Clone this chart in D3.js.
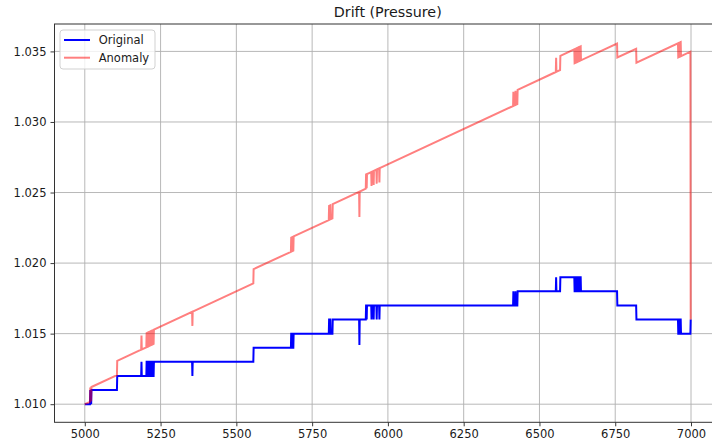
<!DOCTYPE html>
<html>
<head>
<meta charset="utf-8">
<script src="https://cdn.jsdelivr.net/npm/d3@7"></script>
<style>
  body { margin: 0; background: #fff; }
  text { font-family: "DejaVu Sans", sans-serif; fill: #1a1a1a; }
</style>
</head>
<body>
<div id="app"></div>
<script>
// vertices of the two series (shared x)
const sampleX = [5000,5017,5018,5019,5020,5021,5022,5106,5107,5186,5187,5188,5203,5204,5205,5206,5209,5210,5212,5213,5215,5216,5218,5219,5221,5222,5224,5225,5227,5228,5354,5355,5356,5556,5557,5680,5681,5683,5684,5688,5689,5805,5806,5810,5811,5817,5818,5905,5906,5907,5927,5928,5929,5930,5931,5945,5946,5947,5952,5953,5954,5962,5963,5964,5971,5972,5973,6413,6414,6415,6420,6421,6422,6427,6428,6554,6555,6556,6568,6569,6615,6616,6617,6618,6620,6621,6622,6623,6625,6626,6627,6628,6631,6632,6633,6634,6636,6637,6756,6757,6819,6820,6957,6958,6959,6960,6962,6963,6964,6965,6966,6967,6998,6999];

const original = [1.010,1.010,1.011,1.010,1.011,1.010,1.011,1.011,1.012,1.012,1.013,1.012,1.012,1.013,1.013,1.012,1.012,1.013,1.013,1.012,1.012,1.013,1.013,1.012,1.012,1.013,1.013,1.012,1.012,1.013,1.013,1.012,1.013,1.013,1.014,1.014,1.015,1.015,1.014,1.014,1.015,1.015,1.016,1.016,1.015,1.015,1.016,1.016,1.0142,1.016,1.016,1.017,1.017,1.016,1.017,1.017,1.016,1.017,1.017,1.016,1.017,1.017,1.016,1.017,1.017,1.016,1.017,1.017,1.018,1.017,1.017,1.018,1.017,1.017,1.018,1.018,1.019,1.018,1.018,1.019,1.019,1.018,1.018,1.019,1.019,1.018,1.018,1.019,1.019,1.018,1.018,1.019,1.019,1.018,1.018,1.019,1.019,1.018,1.018,1.017,1.017,1.016,1.016,1.015,1.015,1.016,1.016,1.015,1.015,1.016,1.016,1.015,1.015,1.016];

const anomaly = [1.01000,1.01017,1.01118,1.01019,1.01120,1.01021,1.01122,1.01206,1.01307,1.01386,1.01487,1.01388,1.01403,1.01504,1.01505,1.01406,1.01409,1.01510,1.01512,1.01413,1.01415,1.01516,1.01518,1.01419,1.01421,1.01522,1.01524,1.01425,1.01427,1.01528,1.01654,1.01555,1.01656,1.01856,1.01957,1.02080,1.02181,1.02183,1.02084,1.02088,1.02189,1.02305,1.02406,1.02410,1.02311,1.02317,1.02418,1.02505,1.02326,1.02507,1.02527,1.02628,1.02629,1.02530,1.02631,1.02645,1.02546,1.02647,1.02652,1.02553,1.02654,1.02662,1.02563,1.02664,1.02671,1.02572,1.02673,1.03113,1.03214,1.03115,1.03120,1.03221,1.03122,1.03127,1.03228,1.03354,1.03455,1.03356,1.03368,1.03469,1.03515,1.03416,1.03417,1.03518,1.03520,1.03421,1.03422,1.03523,1.03525,1.03426,1.03427,1.03528,1.03531,1.03432,1.03433,1.03534,1.03536,1.03437,1.03556,1.03457,1.03519,1.03420,1.03557,1.03458,1.03459,1.03560,1.03562,1.03463,1.03464,1.03565,1.03566,1.03467,1.03498,1.01600];

const xTicks = [5000, 5250, 5500, 5750, 6000, 6250, 6500, 6750, 7000];
const yTicks = [1.010, 1.015, 1.020, 1.025, 1.030, 1.035];
const seriesNames = ["Original", "Anomaly"];

const width = 712
    , height = 445
    , mLeft = 54.5
    , mRight = 721
    , mTop = 24
    , mBottom = 422.3
    , fs = 11.5;

const svg = d3.select("#app").append("svg")
    .attr("width", width)
    .attr("height", height)
    .style("display", "block");

// matplotlib-ish 5% margins
const xExt = d3.extent(sampleX), xPad = (xExt[1] - xExt[0]) * 0.05;
const allY = original.concat(anomaly);
const yExt = d3.extent(allY), yPad = (yExt[1] - yExt[0]) * 0.05;

const x = d3.scaleLinear().domain([xExt[0] - xPad, xExt[1] + xPad]).range([mLeft, mRight]);
const y = d3.scaleLinear().domain([yExt[0] - yPad, yExt[1] + yPad]).range([mBottom, mTop]);

svg.append("defs").append("clipPath").attr("id", "plot")
  .append("rect")
    .attr("x", mLeft).attr("y", mTop)
    .attr("width", mRight - mLeft).attr("height", mBottom - mTop);

// grid
const grid = svg.append("g").attr("stroke", "#b0b0b0").attr("stroke-width", 0.9);
grid.selectAll(".gx").data(xTicks).enter().append("line")
    .attr("x1", d => x(d)).attr("x2", d => x(d))
    .attr("y1", mTop).attr("y2", mBottom);
grid.selectAll(".gy").data(yTicks).enter().append("line")
    .attr("x1", mLeft).attr("x2", mRight)
    .attr("y1", d => y(d)).attr("y2", d => y(d));

// lines
const lineOf = vals => d3.line()
    .x((d, i) => x(sampleX[i]))
    .y(d => y(d))(vals);

const plot = svg.append("g").attr("clip-path", "url(#plot)").attr("fill", "none");
plot.append("path")
    .attr("d", lineOf(original))
    .attr("stroke", "#0000ff")
    .attr("stroke-width", 2);
plot.append("path")
    .attr("d", lineOf(anomaly))
    .attr("stroke", "#ff0000")
    .attr("stroke-opacity", 0.5)
    .attr("stroke-width", 2);

// axes
const xAxis = svg.append("g")
    .attr("transform", `translate(0,${mBottom})`)
    .call(d3.axisBottom(x).tickValues(xTicks).tickSize(4).tickPadding(4).tickFormat(d3.format("d")));
const yAxis = svg.append("g")
    .attr("transform", `translate(${mLeft},0)`)
    .call(d3.axisLeft(y).tickValues(yTicks).tickSize(4).tickPadding(4).tickFormat(d3.format(".3f")));

[xAxis, yAxis].forEach(g => {
  g.select(".domain").remove();
  g.selectAll(".tick line").attr("stroke", "#222").attr("stroke-width", 0.9);
  g.selectAll(".tick text")
    .style("font-family", "'DejaVu Sans', sans-serif")
    .style("font-size", fs + "px")
    .attr("fill", "#1a1a1a");
});

// spines
svg.append("rect")
    .attr("x", mLeft).attr("y", mTop)
    .attr("width", mRight - mLeft).attr("height", mBottom - mTop)
    .attr("fill", "none")
    .attr("stroke", "#333").attr("stroke-width", 1);

// title
svg.append("text")
    .attr("x", (mLeft + mRight) / 2)
    .attr("y", 17)
    .attr("text-anchor", "middle")
    .style("font-size", "14.3px")
    .text("Drift (Pressure)");

// legend
const legend = svg.append("g").attr("transform", "translate(60,30)");
legend.append("rect")
    .attr("width", 95).attr("height", 39).attr("rx", 3)
    .attr("fill", "#fff").attr("fill-opacity", 0.8)
    .attr("stroke", "#cccccc").attr("stroke-width", 0.9);

const legColors = [{ c: "#0000ff", o: 1 }, { c: "#ff0000", o: 0.5 }];
seriesNames.forEach((name, i) => {
  const yy = 10 + i * 17.7;
  legend.append("line")
      .attr("x1", 4).attr("x2", 30)
      .attr("y1", yy).attr("y2", yy)
      .attr("stroke", legColors[i].c)
      .attr("stroke-opacity", legColors[i].o)
      .attr("stroke-width", 2);
  legend.append("text")
      .attr("x", 38.7).attr("y", yy + 4.2)
      .style("font-size", fs + "px")
      .text(name);
});
</script>
</body>
</html>
